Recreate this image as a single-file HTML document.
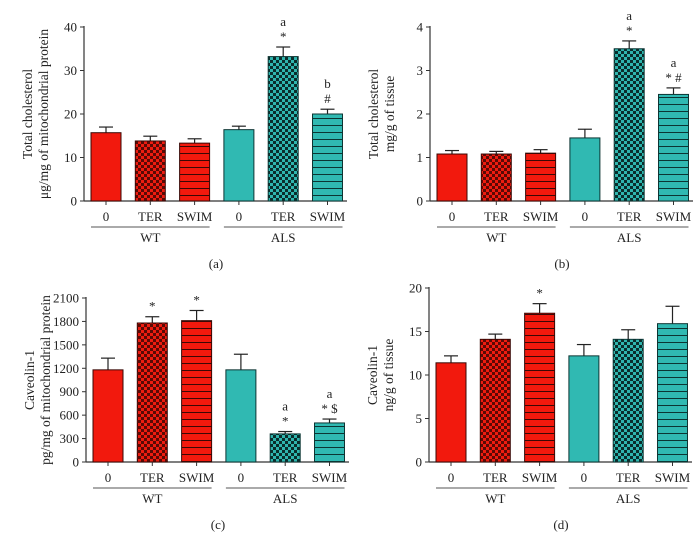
<!DOCTYPE html>
<html><head><meta charset="utf-8"><style>
body{margin:0;background:#fff;}
svg{display:block;font-family:"Liberation Serif",serif;}
</style></head><body>
<svg id="fig" width="700" height="550" viewBox="0 0 700 550" xmlns="http://www.w3.org/2000/svg">
<defs>
<pattern id="chkR" width="6" height="6" patternUnits="userSpaceOnUse"><rect width="6" height="6" fill="#ee1c10"/><rect width="3" height="3" fill="#5a0a05"/><rect x="3" y="3" width="3" height="3" fill="#5a0a05"/></pattern>
<pattern id="chkT" width="6" height="6" patternUnits="userSpaceOnUse"><rect width="6" height="6" fill="#2fb5ae"/><rect width="3" height="3" fill="#0a2e2c"/><rect x="3" y="3" width="3" height="3" fill="#0a2e2c"/></pattern>
<pattern id="strR" width="6" height="7" patternUnits="userSpaceOnUse"><rect width="6" height="7" fill="#f2190d"/><rect y="6" width="6" height="1.2" fill="#3a0805"/></pattern>
<pattern id="strT" width="6" height="7" patternUnits="userSpaceOnUse"><rect width="6" height="7" fill="#30b9b2"/><rect y="6" width="6" height="1.2" fill="#0c3533"/></pattern>
</defs>
</svg>
<script>
const categories=["0","TER","SWIM","0","TER","SWIM"];
const groups=["WT","ALS"];
const valsA=[15.7,13.8,13.3,16.4,33.2,20.0];
const errA=[1.3,1.1,1.0,0.8,2.2,1.1];
const valsB=[1.08,1.08,1.10,1.45,3.50,2.45];
const errB=[0.08,0.06,0.08,0.20,0.18,0.15];
const valsC=[1180,1780,1810,1180,360,500];
const errC=[150,80,130,200,30,50];
const valsD=[11.4,14.1,17.1,12.2,14.1,15.9];
const errD=[0.8,0.6,1.1,1.3,1.1,2.0];
const ticksA=[0,10,20,30,40];
const ticksB=[0,1,2,3,4];
const ticksC=[0,300,600,900,1200,1500,1800,2100];
const ticksD=[0,5,10,15,20];
const annA=[[],[],[],[],["a","*"],["b","#"]];
const annB=[[],[],[],[],["a","*"],["a","* #"]];
const annC=[[],["*"],["*"],[],["a","*"],["a","* $"]];
const annD=[[],[],["*"],[],[],[]];
const fills=["#f2190d","url(#chkR)","url(#strR)","#30b9b2","url(#chkT)","url(#strT)"];
const strokes=["#3a0805","#3a0805","#3a0805","#0c3533","#0c3533","#0c3533"];
const svg=document.getElementById('fig');
const NS="http://www.w3.org/2000/svg";
function mk(tag,attrs,txt){const e=document.createElementNS(NS,tag);for(const k in attrs)e.setAttribute(k,attrs[k]);if(txt!==undefined)e.textContent=txt;svg.appendChild(e);return e;}
function panel(p,vals,errs,ticks,ann,title,letter){
  const ymax=ticks[ticks.length-1];
  const y=v=>p.y0-(v/ymax)*(p.y0-p.ytop);
  const x=i=>p.ax+22+i*44.3;
  const bw=30;
  let e=mk('line',{x1:p.ax,y1:p.ytop-1,x2:p.ax,y2:p.y0,stroke:'#333','stroke-width':1.2});
  
  e=mk('line',{x1:p.ax,y1:p.y0,x2:p.ax+263,y2:p.y0,stroke:'#333','stroke-width':1.2});
  
  ticks.forEach(t=>{
    mk('line',{x1:p.ax-4,y1:y(t),x2:p.ax,y2:y(t),stroke:'#333'});
    e=mk('text',{x:p.ax-7,y:y(t)+4.5,'text-anchor':'end','font-size':13,fill:'#222'},t);
    
  });
  vals.forEach((v,i)=>{
    const cx=x(i),top=y(v),et=y(v+errs[i]);
    e=mk('line',{x1:cx,y1:top,x2:cx,y2:et,stroke:'#222','stroke-width':1.2});
    
    mk('line',{x1:cx-7,y1:et,x2:cx+7,y2:et,stroke:'#222','stroke-width':1.2});
    e=mk('rect',{x:cx-bw/2,y:top,width:bw,height:p.y0-top,fill:fills[i],stroke:strokes[i],'stroke-width':1});
    
    mk('line',{x1:cx,y1:p.y0,x2:cx,y2:p.y0+4,stroke:'#333'});
    e=mk('text',{x:cx,y:p.y0+20,'text-anchor':'middle','font-size':13,fill:'#222'},categories[i]);
    
    const a=ann[i];
    a.slice().reverse().forEach((s,k)=>{
      e=mk('text',{x:cx,y:et-6-k*15,'text-anchor':'middle','font-size':13,fill:'#222'},s);
      
    });
  });
  [0,1].forEach(g=>{
    const x1=x(g*3)-15,x2=x(g*3+2)+15;
    mk('line',{x1:x1,y1:p.y0+26,x2:x2,y2:p.y0+26,stroke:'#555','stroke-width':1});
    e=mk('text',{x:(x1+x2)/2,y:p.y0+41,'text-anchor':'middle','font-size':13,fill:'#222'},groups[g]);
    
  });
  const mid=(p.y0+p.ytop)/2;
  e=mk('text',{transform:`translate(${p.ax-50},${mid}) rotate(-90)`,'text-anchor':'middle','font-size':13.5,fill:'#222'});
  
  const t1=document.createElementNS(NS,'tspan');t1.setAttribute('x',0);t1.setAttribute('y',-2);t1.textContent=title[0];e.appendChild(t1);
  const t2=document.createElementNS(NS,'tspan');t2.setAttribute('x',0);t2.setAttribute('y',14);t2.textContent=title[1];e.appendChild(t2);
  e=mk('text',{x:p.ax+132,y:p.y0+67,'text-anchor':'middle','font-size':13,fill:'#222'},'('+letter+')');
  
}
panel({ax:84,y0:201,ytop:27},valsA,errA,ticksA,annA,["Total cholesterol","μg/mg of mitochondrial protein"],'a');
panel({ax:430,y0:201,ytop:27},valsB,errB,ticksB,annB,["Total cholesterol","mg/g of tissue"],'b');
panel({ax:86,y0:462,ytop:298},valsC,errC,ticksC,annC,["Caveolin-1","pg/mg of mitochondrial protein"],'c');
panel({ax:429,y0:462,ytop:288},valsD,errD,ticksD,annD,["Caveolin-1","ng/g of tissue"],'d');
</script>
</body></html>
